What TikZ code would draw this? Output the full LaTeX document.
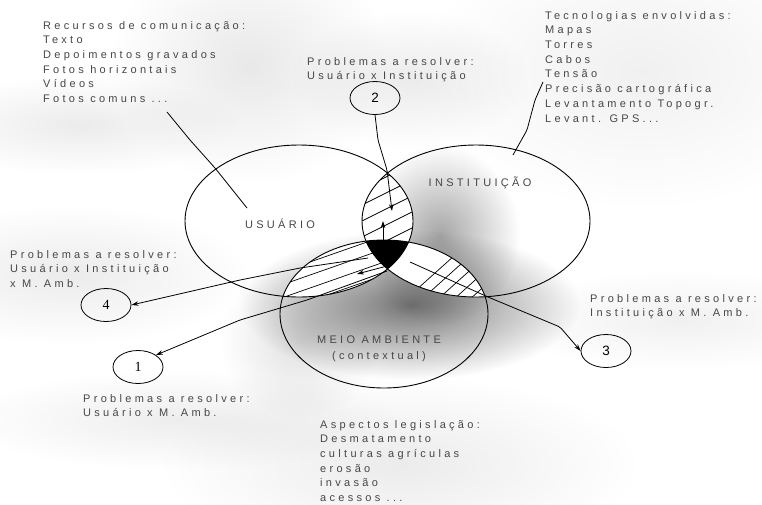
\documentclass[tikz,border=0pt]{standalone}
\usepackage{fontspec}
\setmainfont{Liberation Sans}
\newfontfamily\spaced[LetterSpace=30]{Liberation Sans}
\newfontfamily\numserif{Liberation Serif}
\usetikzlibrary{arrows.meta,shapes.geometric,fadings}

\tikzfading[name=hazefade, inner color=transparent!0, outer color=transparent!100]

\tikzset{
  txt/.style={font={\spaced\fontsize{11}{14.7}\selectfont}, text=black!72,
    align=left, inner sep=0pt, anchor=north west},
  lbl/.style={font={\spaced\fontsize{11}{16}\selectfont}, text=black!72,
    align=center, inner sep=0pt},
  venn/.style={line width=0.9pt},
  con/.style={line width=0.8pt, rounded corners=2pt},
  arr/.style={con, -{Stealth[length=7pt,width=4.5pt]}},
  numc/.style={draw, ellipse, line width=0.8pt, minimum width=50pt,
    minimum height=33pt, inner sep=0pt},
  hatch/.style={line width=0.7pt},
  haze/.style={fill=black, fill opacity=#1, path fading=hazefade},
}

\begin{document}
\begin{tikzpicture}[x=1pt,y=-1pt]
\useasboundingbox (0,0) rectangle (762,504);
\fill[white] (0,0) rectangle (762,504);

% soft grey shadows behind the drawing
\path[haze=0.55] (410,305) ellipse (170 and 75);
\path[haze=0.35] (440,235) ellipse (80 and 90);
\path[haze=0.12] (300,340) ellipse (80 and 80);
\path[haze=0.09] (250,65) ellipse (140 and 120);
\path[haze=0.08] (80,125) ellipse (160 and 50);
\path[haze=0.08] (410,80) ellipse (120 and 70);
\path[haze=0.06] (640,70) ellipse (220 and 140);
\path[haze=0.08] (70,275) ellipse (180 and 70);
\path[haze=0.08] (400,465) ellipse (240 and 90);
\path[haze=0.07] (180,420) ellipse (220 and 50);
\path[haze=0.06] (680,320) ellipse (180 and 50);

% pairwise overlaps: white ground
\begin{scope}
  \clip (299,221) ellipse (114 and 76);
  \fill[white] (476,221) ellipse (114 and 76);
  \fill[white] (384,314) ellipse (104 and 74);
\end{scope}
\begin{scope}
  \clip (476,221) ellipse (114 and 76);
  \fill[white] (384,314) ellipse (104 and 74);
\end{scope}

% hatching of the overlaps
\begin{scope}
  \clip (299,221) ellipse (114 and 76);
  \clip (476,221) ellipse (114 and 76);
  \foreach \y in {195,211,227,243,259}
    \draw[hatch] (350,\y) -- (425,\y-37.5);
\end{scope}
\begin{scope}
  \clip (476,221) ellipse (114 and 76);
  \clip (384,314) ellipse (104 and 74);
  \foreach \x in {405,421,437,453,469,485}
    \draw[hatch] (\x-10,309) -- (\x+60,246);
\end{scope}
\begin{scope}
  \clip (299,221) ellipse (114 and 76);
  \clip (384,314) ellipse (104 and 74);
  \foreach \y in {276,289,302,315}
    \draw[hatch] (270,\y) -- (390,\y-42);
\end{scope}

% common part of the three sets
\begin{scope}
  \clip (299,221) ellipse (114 and 76);
  \clip (476,221) ellipse (114 and 76);
  \fill[black] (384,314) ellipse (104 and 74);
\end{scope}

% the three sets
\draw[venn] (299,221) ellipse (114 and 76);
\draw[venn] (476,221) ellipse (114 and 76);
\draw[venn] (384,314) ellipse (104 and 74);

\node[lbl] (usuario) at (280,224) {USUÁRIO};
\node[lbl] (instituicao) at (480,183) {INSTITUIÇÃO};
\node[lbl] (meio) at (379,340) {MEIO AMBIENTE};
\node[lbl] (contextual) at (379,357) {(contextual)};

% text blocks
\node[txt] (recursos) at (43,21) {Recursos de comunicação:\\Texto\\Depoimentos gravados\\Fotos horizontais\\Vídeos\\Fotos comuns ...};
\node[txt] (prob2) at (307,57) {Problemas a resolver:\\Usuário x Instituição};
\node[txt] (tecno) at (545,11) {Tecnologias envolvidas:\\Mapas\\Torres\\Cabos\\Tensão\\Precisão cartográfica\\Levantamento Topogr.\\Levant. GPS...};
\node[txt] (prob4) at (10,250) {Problemas a resolver:\\Usuário x Instituição\\x M. Amb.};
\node[txt] (prob3) at (590,294) {Problemas a resolver:\\Instituição x M. Amb.};
\node[txt] (prob1) at (83,394) {Problemas a resolver:\\Usuário x M. Amb.};
\node[txt] (aspectos) at (320,420) {Aspectos legislação:\\Desmatamento\\culturas agrículas\\erosão\\invasão\\acessos ...};

% numbered circles
\node[numc, font=\fontsize{13.5}{14}\selectfont] (c2) at (375,98) {2};
\node[numc, font=\fontsize{13.5}{14}\selectfont] (c3) at (606,351) {3};
\node[numc, font={\numserif\fontsize{14}{15}\selectfont}] (c4) at (106,305) {4};
\node[numc, font={\numserif\fontsize{14}{15}\selectfont}] (c1) at (138,367) {1};

% free ends of the connectors
\coordinate (recStart) at (167,112);
\coordinate (recEnd) at (247,208);
\coordinate (tecStart) at (543,82);
\coordinate (tecEnd) at (513,155);
\coordinate (topLens) at (392,211);
\coordinate (coreTop) at (383,241);
\coordinate (coreUp) at (383,221);
\coordinate (coreBot) at (387,266);
\coordinate (leftLens) at (357,274);
\coordinate (start4) at (368,258);
\coordinate (start1) at (387,271);
\coordinate (start3) at (410,262);

% connectors
\draw[con] (recStart) -- (190,140) -- (215,168) -- (recEnd);
\draw[con] (tecStart) -- (535,100) -- (527,130) -- (tecEnd);
\draw[arr] (c2.south) -- (378,140) -- (387,170) -- (topLens);
\draw[arr] (coreTop) -- (coreUp);
\draw[arr] (coreBot) -- (leftLens);
\draw[arr] (start4) -- (300,268) -- (240,280) -- (c4.east);
\draw[arr] (start1) -- (307,300) -- (240,320) -- (c1.north east);
\draw[arr] (start3) -- (488,297) -- (560,327) -- (c3.west);
\end{tikzpicture}
\end{document}
